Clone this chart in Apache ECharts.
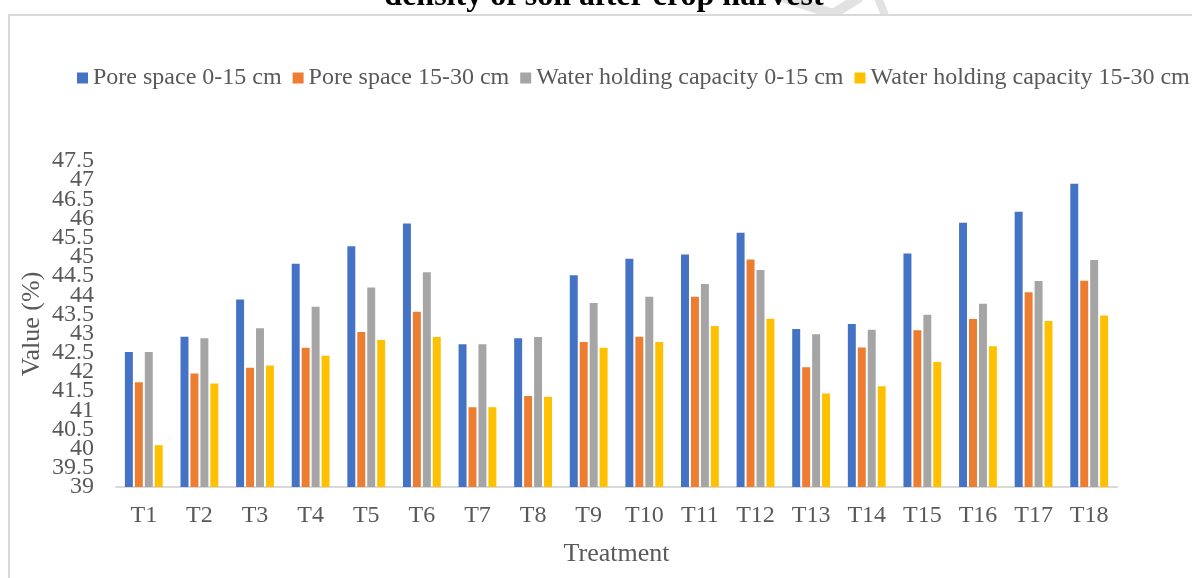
<!DOCTYPE html>
<html>
	<head>
		<meta charset="utf-8">
		<title></title>
		<script src="https://cdn.jsdelivr.net/npm/echarts@6/dist/echarts.min.js"></script>
		<style>
			html, body { margin: 0; padding: 0; background: #fff; }
		</style>
	</head>
	<body>
		<div id="main" style="width: 1192px; height: 578px;"></div>
		<script type="text/javascript">
			// data
			var treatments = ['T1', 'T2', 'T3', 'T4', 'T5', 'T6', 'T7', 'T8', 'T9', 'T10', 'T11', 'T12', 'T13', 'T14', 'T15', 'T16', 'T17', 'T18'];
			var seriesNames = ['Pore space 0-15 cm', 'Pore space 15-30 cm', 'Water holding capacity 0-15 cm', 'Water holding capacity 15-30 cm'];
			var pore0_15 = [42.52, 42.92, 43.89, 44.82, 45.28, 45.87, 42.72, 42.88, 44.52, 44.95, 45.06, 45.63, 43.12, 43.25, 45.09, 45.89, 46.18, 46.91];
			var pore15_30 = [41.73, 41.96, 42.11, 42.63, 43.04, 43.57, 41.08, 41.37, 42.78, 42.92, 43.96, 44.93, 42.12, 42.64, 43.09, 43.38, 44.08, 44.38];
			var whc0_15 = [42.52, 42.88, 43.14, 43.70, 44.20, 44.60, 42.72, 42.91, 43.80, 43.96, 44.29, 44.66, 42.98, 43.10, 43.49, 43.78, 44.37, 44.92];
			var whc15_30 = [40.09, 41.70, 42.17, 42.42, 42.83, 42.91, 41.08, 41.35, 42.63, 42.78, 43.20, 43.39, 41.44, 41.63, 42.26, 42.67, 43.33, 43.47];
			var yMin = 39, yMax = 47.5, yStep = 0.5;
			var colors = ['#4472C4', '#ED7D31', '#A5A5A5', '#FFC000'];

			var myCharts = echarts.init(document.getElementById('main'));
			var serif = '"Liberation Serif", "Times New Roman", serif';
			var txt = '#595959';

			var allValues = [pore0_15, pore15_30, whc0_15, whc15_30];
			var series = seriesNames.map(function (name, i) {
				return {
					name: name,
					type: 'bar',
					data: allValues[i],
					barGap: '25%',
					barCategoryGap: '32%',
					itemStyle: { color: colors[i] }
				};
			});

			var yLabel = { fontFamily: serif, fontSize: 24, color: txt, margin: 22 };

			var option = {
				animation: false,
				color: colors,
				graphic: [
					// faint watermark strokes behind the top edge
					{
						type: 'polyline',
						shape: { points: [[782, -3], [833, 14], [860, -3]] },
						style: { stroke: '#e2e2e2', lineWidth: 10, fill: 'none' },
						silent: true
					},
					{
						type: 'line',
						shape: { x1: 878, y1: -2, x2: 885, y2: 15 },
						style: { stroke: '#e2e2e2', lineWidth: 8 },
						silent: true
					},
					{
						type: 'rect',
						shape: { x: 9, y: 15, width: 1200, height: 600 },
						style: { fill: '#fff', stroke: '#d9d9d9', lineWidth: 2 },
						silent: true
					},
					// title sits mostly above the frame, only its lower part shows
					{
						type: 'text',
						x: 604,
						y: -19,
						style: {
							text: 'density of soil after crop harvest',
							align: 'center',
							verticalAlign: 'top',
							font: 'bold 32px ' + serif,
							fill: '#000'
						}
					}
				],
				legend: {
					data: seriesNames,
					left: 72,
					top: 61,
					width: 1600,
					itemWidth: 11,
					itemHeight: 11,
					itemGap: 11,
					icon: 'rect',
					textStyle: { fontFamily: serif, fontSize: 24, color: txt }
				},
				grid: { left: 116, right: 75, top: 161, bottom: 91, containLabel: false },
				xAxis: {
					type: 'category',
					data: treatments,
					name: 'Treatment',
					nameLocation: 'middle',
					nameGap: 54,
					nameTextStyle: { fontFamily: serif, fontSize: 26, color: txt },
					axisLine: { lineStyle: { color: '#d9d9d9', width: 2 } },
					axisTick: { show: false },
					axisLabel: { fontFamily: serif, fontSize: 24, color: txt, margin: 17, interval: 0 }
				},
				yAxis: [
					{
						type: 'value',
						min: yMin,
						max: yMax,
						interval: yStep,
						name: 'Value (%)',
						nameLocation: 'middle',
						nameGap: 71,
						nameMoveOverlap: false,
						nameTextStyle: { fontFamily: serif, fontSize: 26, color: txt },
						axisLine: { show: false },
						axisTick: { show: false },
						splitLine: { show: false },
						axisLabel: Object.assign({ showMinLabel: true, showMaxLabel: true }, yLabel)
					},
					// the labels are packed tight, echarts drops the ones next to min/max,
					// so a twin axis puts those two back
					{
						type: 'value',
						position: 'left',
						min: yMin,
						max: yMax,
						interval: yStep,
						axisLine: { show: false },
						axisTick: { show: false },
						splitLine: { show: false },
						axisLabel: Object.assign({
							showMinLabel: false,
							showMaxLabel: false,
							formatter: function (v) {
								return (v === yMin + yStep || v === yMax - yStep) ? String(v) : '';
							}
						}, yLabel)
					}
				],
				series: series
			};
			myCharts.setOption(option);
		</script>
	</body>
</html>
